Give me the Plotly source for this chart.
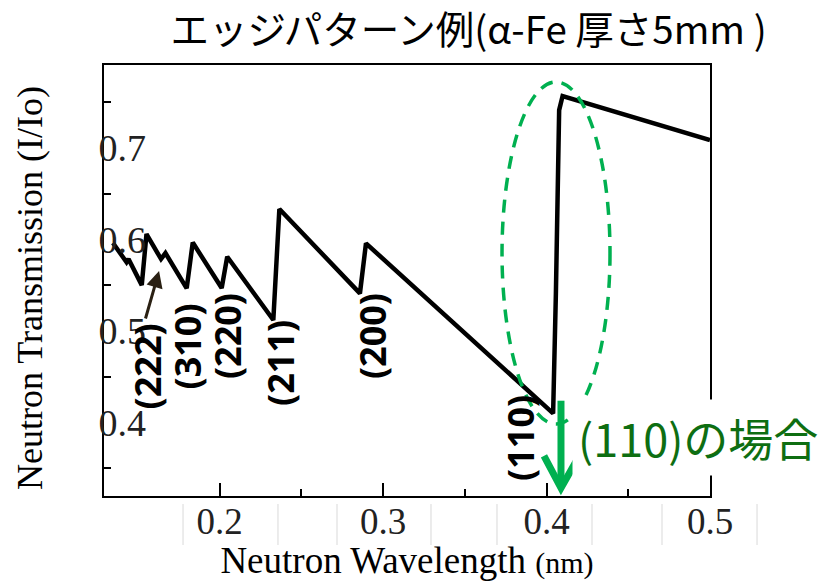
import plotly.graph_objects as go

# ---- data ----
wavelength = [0.1347, 0.1430, 0.1442, 0.1523, 0.1552, 0.1641, 0.1668, 0.1798, 0.1835,
              0.2012, 0.2046, 0.2328, 0.2365, 0.2858, 0.2895, 0.4040, 0.4057, 0.4077,
              0.4098, 0.5000]
transmission = [0.596, 0.575, 0.5785, 0.550, 0.6058, 0.5785, 0.585, 0.5465, 0.5965,
                 0.5468, 0.581, 0.5119, 0.6331, 0.541, 0.5956, 0.410, 0.541, 0.741,
                 0.7564, 0.7084]

edge_labels = ["(222)", "(310)", "(220)", "(211)", "(200)", "(110)"]
edge_label_x = [0.1558, 0.1803, 0.2045, 0.2375, 0.2932, 0.3837]
edge_label_y = [0.4617, 0.4824, 0.4944, 0.4650, 0.4944, 0.3831]

x_tick_vals = [0.2, 0.3, 0.4, 0.5]
x_tick_text = ["0.2", "0.3", "0.4", "0.5"]
x_minor_ticks = [0.15, 0.25, 0.35, 0.45]
y_tick_vals = [0.4, 0.5, 0.6, 0.7]
y_tick_text = ["0.4", "0.5", "0.6", "0.7"]
y_minor_ticks = [0.35, 0.45, 0.55, 0.65, 0.75]
all_x_ticks = [0.15, 0.2, 0.25, 0.3, 0.35, 0.4, 0.45]
all_y_ticks = [0.35, 0.4, 0.45, 0.5, 0.55, 0.6, 0.65, 0.7, 0.75]

XR = [0.1292, 0.5]
YR = [0.3198, 0.7903]

SERIF = "Liberation Serif, Times New Roman, serif"
SANS_JP = "Noto Sans CJK JP, Noto Sans, sans-serif"
GREEN = "#00b050"
DKGREEN = "#0e6e12"

fig = go.Figure()
fig.add_trace(go.Scatter(x=wavelength, y=transmission, mode="lines",
                         line=dict(color="black", width=4.5), showlegend=False,
                         hoverinfo="skip"))

fig.update_layout(
    width=825, height=581,
    margin=dict(l=104, r=115, t=65, b=85, autoexpand=False),
    paper_bgcolor="white", plot_bgcolor="white",
    showlegend=False,
    title=dict(text="エッジパターン例(α-Fe 厚さ5mm )",
               font=dict(family=SANS_JP, size=38.5, color="black"),
               x=0.568, xanchor="center", xref="container",
               y=0.948, yanchor="middle", yref="container", automargin=False),
    xaxis=dict(range=XR, showgrid=False, zeroline=False, automargin=False,
               showline=True, linecolor="black", linewidth=2, mirror=True,
               tickvals=x_tick_vals, ticktext=x_tick_text,
               ticks="inside", ticklen=13, tickwidth=2, tickcolor="black",
               ticklabelstandoff=-8,
               tickfont=dict(family=SERIF, size=37, color="#222"),
               minor=dict(tickvals=x_minor_ticks, ticks="inside",
                          ticklen=7, tickwidth=2, tickcolor="black"),
               title=dict(text="Neutron Wavelength <span style='font-size:30px'>(nm)</span>",
                          font=dict(family=SERIF, size=37, color="black"),
                          standoff=5)),
    xaxis2=dict(range=XR, overlaying="x", side="top", showgrid=False, automargin=False,
                zeroline=False, showline=False, tickvals=all_x_ticks,
                ticks="inside", ticklen=7, tickwidth=2, tickcolor="black",
                showticklabels=False),
    yaxis=dict(range=YR, showgrid=False, zeroline=False, automargin=False,
               showline=True, linecolor="black", linewidth=2, mirror=True,
               tickvals=y_tick_vals, ticktext=y_tick_text, ticks="",
               ticklabelposition="inside", ticklabelstandoff=-1,
               tickfont=dict(family=SERIF, size=38, color="#222"),
               minor=dict(tickvals=y_minor_ticks, ticks="inside", ticklen=7,
                          tickwidth=2, tickcolor="black")),
    yaxis2=dict(range=YR, overlaying="y", side="right", showgrid=False, automargin=False,
                zeroline=False, showline=False, tickvals=all_y_ticks,
                ticks="inside", ticklen=7, tickwidth=2, tickcolor="black",
                showticklabels=False),
)

# y-axis title
fig.add_annotation(x=(30 - 104) / 606, y=(496 - 288) / 431, xref="paper", yref="paper",
                   text="Neutron Transmission (I/Io)", textangle=-90, showarrow=False,
                   xanchor="center", yanchor="middle",
                   font=dict(family=SERIF, size=36, color="black"))

# edge labels
for t, xv, yv in zip(edge_labels, edge_label_x, edge_label_y):
    fig.add_annotation(x=xv, y=yv, xref="x", yref="y", text="<b>" + t + "</b>",
                       textangle=-90, showarrow=False, xanchor="center",
                       yanchor="middle",
                       font=dict(family="Open Sans, sans-serif", size=36, color="black"))

# small black arrow pointing at (222) edge
fig.add_annotation(x=0.1629, y=0.5654, xref="x", yref="y", text="", showarrow=True,
                   ax=-14, ay=49, axref="pixel", ayref="pixel",
                   arrowhead=2, arrowsize=1.1, arrowwidth=3, arrowcolor="#2a2013")

# green dashed ellipse
fig.add_shape(type="circle", xref="paper", yref="paper",
              x0=0.6568, x1=0.835, y0=0.167, y1=0.9606,
              line=dict(color=GREEN, width=3.5, dash="13px,9px"))

# white-backed green label
fig.add_annotation(x=(572 - 104) / 606, y=(496 - 437) / 431, xref="paper", yref="paper",
                   text="(110)の場合", showarrow=False, xanchor="left",
                   yanchor="middle", bgcolor="white", borderpad=5,
                   font=dict(family=SANS_JP, size=45, color=DKGREEN))

# green down arrow
fig.add_shape(type="line", xref="paper", yref="paper",
              x0=0.7541, x1=0.7541, y0=0.2211, y1=0.03,
              line=dict(color=GREEN, width=7))
fig.add_shape(type="path", xref="paper", yref="paper",
              path="M 0.7260 0.0930 L 0.7541 0.0186 L 0.7840 0.0930",
              line=dict(color=GREEN, width=7))

# faint grey lines of the tick-label strip
for px in [0.1304, 0.2871, 0.3845, 0.5396, 0.6485, 0.8053, 0.9208, 1.0776]:
    fig.add_shape(type="line", xref="paper", yref="paper", x0=px, x1=px,
                  y0=-0.0186, y1=-0.1137, line=dict(color="#d9d9d9", width=1))

fig.write_html("out.html")
